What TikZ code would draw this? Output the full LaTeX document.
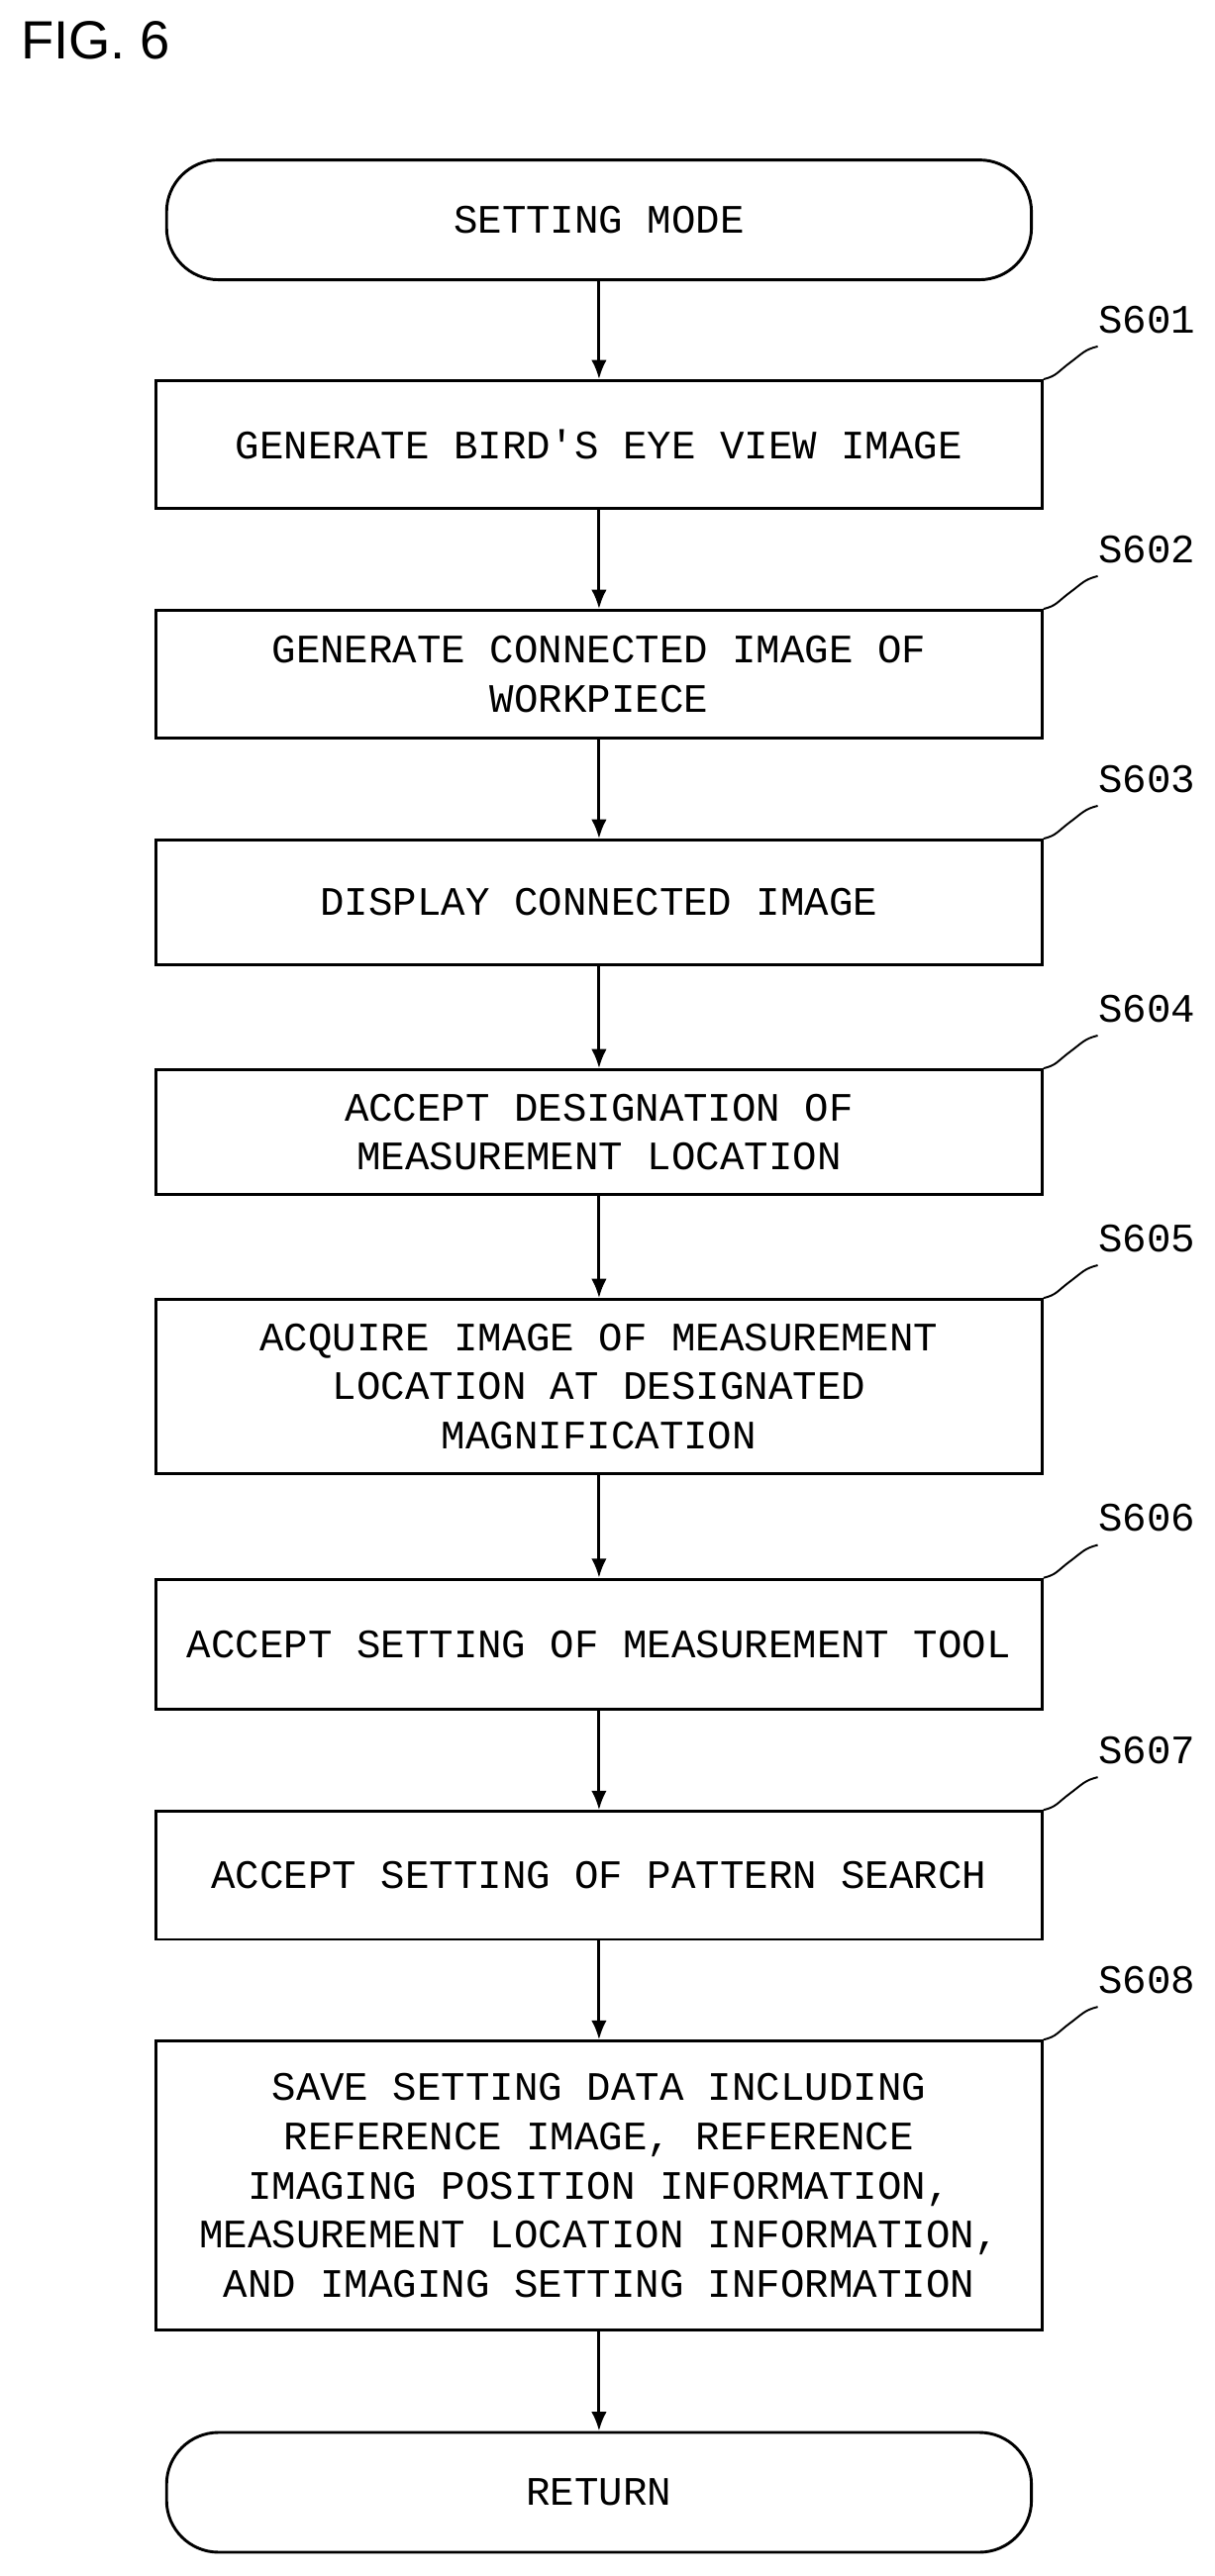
\documentclass[tikz,border=0pt]{standalone}
\usepackage{fontspec}
\usetikzlibrary{arrows.meta}
\setmainfont{Liberation Sans}
\newfontfamily\flowfont{Liberation Mono}
\begin{document}
\begin{tikzpicture}[x=0.03cm,y=-0.03cm,line width=1.5pt,
  stepbox/.style={draw,minimum width=540*0.03cm,align=center,font=\flowfont\fontsize{21}{25.6}\selectfont},
  termbox/.style={draw,rounded corners=0.95cm,minimum width=527*0.03cm,minimum height=73*0.03cm,font=\flowfont\fontsize{21}{25.6}\selectfont},
  steplabel/.style={font=\flowfont\fontsize{21}{25.6}\selectfont}]

% Frame
  \useasboundingbox (0,0) rectangle (740,1570);
  \node[anchor=north west,font=\fontsize{28}{30}\selectfont] (fig) at (8,8) {FIG. 6};

% Terminals
  \node[termbox] (start) at (365,134) {SETTING MODE};
  \node[termbox] (ret) at (365,1519) {RETURN};

% Steps
  \foreach \name/\lab/\yc/\h/\txt in {
    s601/S601/271/78/{GENERATE BIRD'S EYE VIEW IMAGE},
    s602/S602/411/78/{GENERATE CONNECTED IMAGE OF\\WORKPIECE},
    s603/S603/550/76/{DISPLAY CONNECTED IMAGE},
    s604/S604/690/76/{ACCEPT DESIGNATION OF\\MEASUREMENT LOCATION},
    s605/S605/845/106/{ACQUIRE IMAGE OF MEASUREMENT\\LOCATION AT DESIGNATED\\MAGNIFICATION},
    s606/S606/1002/79/{ACCEPT SETTING OF MEASUREMENT TOOL},
    s607/S607/1143/78/{ACCEPT SETTING OF PATTERN SEARCH},
    s608/S608/1332/176/{SAVE SETTING DATA INCLUDING\\REFERENCE IMAGE, REFERENCE\\IMAGING POSITION INFORMATION,\\MEASUREMENT LOCATION INFORMATION,\\AND IMAGING SETTING INFORMATION}}
  {
    \node[stepbox,minimum height=\h*0.03cm] (\name) at (365,\yc) {\txt};
    \node[steplabel,anchor=south] (\name-lab) at ([xshift=63*0.03cm,yshift=0.7cm]\name.north east) {\lab};
    \draw[line width=1pt] (\name.north east) .. controls ++(8,-2) and ++(-8,6) .. ++(16,-10)
                 .. controls ++(8,-6) and ++(-8,2) .. ++(17,-10);
  }

% Arrows
  \foreach \a/\b in {start/s601,s601/s602,s602/s603,s603/s604,s604/s605,s605/s606,s606/s607,s607/s608,s608/ret}
    \draw[-{Latex[length=10pt,width=8pt]}] (\a) -- (\b);

\end{tikzpicture}
\end{document}
